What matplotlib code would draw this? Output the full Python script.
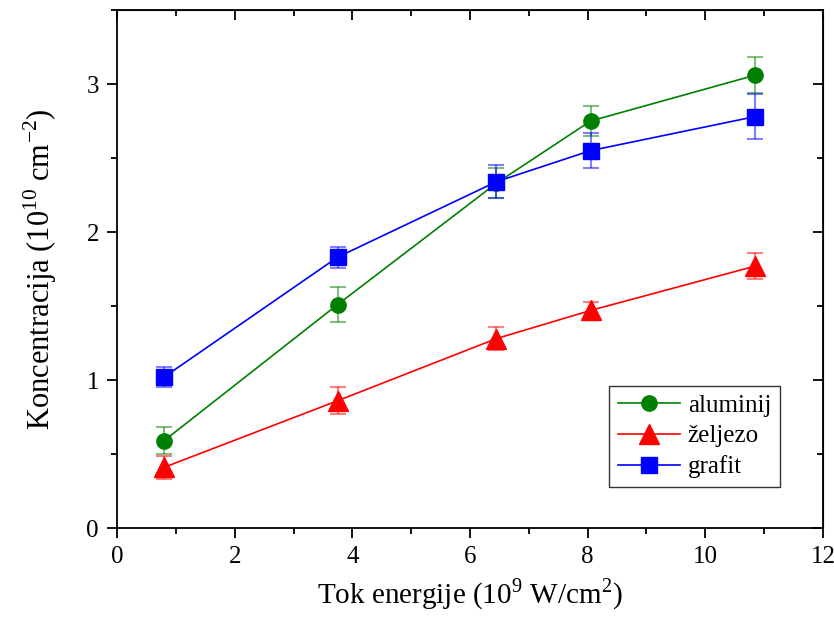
import numpy as np
import matplotlib.pyplot as plt

plt.rcParams['font.family'] = ['Liberation Serif', 'DejaVu Serif']
plt.rcParams['mathtext.fontset'] = 'custom'
plt.rcParams['mathtext.rm'] = 'Liberation Serif'

x = [0.8, 3.75, 6.45, 8.05, 10.85]

aluminij = [0.59, 1.51, 2.33, 2.75, 3.06]
aluminij_err = [0.09, 0.12, 0.10, 0.10, 0.12]

zeljezo = [0.41, 0.86, 1.28, 1.47, 1.77]
zeljezo_err = [0.08, 0.09, 0.08, 0.06, 0.09]

grafit = [1.02, 1.83, 2.34, 2.55, 2.78]
grafit_err = [0.07, 0.07, 0.11, 0.12, 0.15]

series = [
    ("aluminij", aluminij, aluminij_err, "#008000", "o", 11),
    ("željezo", zeljezo, zeljezo_err, "#ff0000", "^", 14),
    ("grafit", grafit, grafit_err, "#0000ff", "s", 11),
]

fig = plt.figure(figsize=(8.34, 6.17), dpi=100)
ax = fig.add_axes([0.1403, 0.1442, 0.8465, 0.8396])

for name, y, err, c, m, ms in series:
    ax.errorbar(x, y, yerr=err, fmt="none", ecolor=c, alpha=0.5,
                elinewidth=1.5, capsize=6, capthick=1.5)
    ax.plot(x, y, color=c, lw=1.2, marker=m, markersize=ms,
            markerfacecolor=c, markeredgecolor=c, label=name)

ax.set_xlim(0, 12)
ax.set_ylim(0, 3.5)
ax.set_xticks(np.arange(0, 13, 2))
ax.set_xticks(np.arange(1, 12, 2), minor=True)
ax.set_yticks([0, 1, 2, 3])
ax.set_yticks([0.5, 1.5, 2.5, 3.5], minor=True)

ax.tick_params(direction="out", which="major", length=7, width=1.3,
               labelsize=18, pad=6)
ax.tick_params(direction="out", which="minor", length=4, width=1.3)
for s in ax.spines.values():
    s.set_linewidth(1.3)

top = ax.secondary_xaxis("top")
top.set_xticks(np.arange(0, 13, 2))
top.set_xticks(np.arange(1, 12, 2), minor=True)
top.tick_params(direction="in", which="major", length=7, width=1.3, labeltop=False)
top.tick_params(direction="in", which="minor", length=4, width=1.3)
right = ax.secondary_yaxis("right")
right.set_yticks([0, 1, 2, 3])
right.set_yticks([0.5, 1.5, 2.5, 3.5], minor=True)
right.tick_params(direction="in", which="major", length=7, width=1.3, labelright=False)
right.tick_params(direction="in", which="minor", length=4, width=1.3)

ax.set_xlabel(r"Tok energije (10$^{9}$ W/cm$^{2}$)", fontsize=21, labelpad=6)
ax.set_ylabel(r"Koncentracija (10$^{10}$ cm$^{-2}$)", fontsize=22, labelpad=20)

leg = ax.legend(loc="lower right", bbox_to_anchor=(0.939, 0.079), fontsize=18,
                frameon=True, fancybox=False, edgecolor="black",
                handlelength=2.5, handletextpad=0.3, borderpad=0.35,
                labelspacing=0.32, borderaxespad=0)
leg.get_frame().set_linewidth(1.0)

fig.savefig("out.png", dpi=100)
